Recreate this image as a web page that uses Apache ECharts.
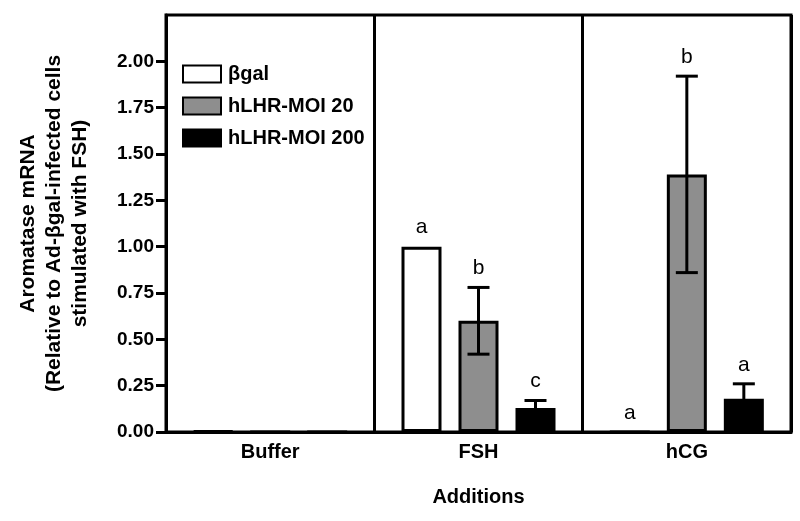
<!DOCTYPE html>
<html>
<head>
<meta charset="utf-8">
<script src="https://cdn.jsdelivr.net/npm/echarts@6/dist/echarts.min.js"></script>
<style>
  html, body { margin: 0; padding: 0; background: #fff; }
  #chart { width: 800px; height: 521px; }
</style>
</head>
<body>
<div id="chart"></div>
<script>
// data
var categories = ['Buffer', 'FSH', 'hCG']
var legendNames = ['\u03b2gal', 'hLHR-MOI 20', 'hLHR-MOI 200']
var betaGal = [0.005, 1.00, 0]
var moi20 = [0, 0.60, 1.39]
var moi200 = [0, 0.13, 0.18]
var betaGalErr = [0, 0, 0]
var moi20Err = [0, 0.18, 0.53]
var moi200Err = [0, 0.04, 0.08]
var betaGalLetters = ['', 'a', 'a']
var moi20Letters = ['', 'b', 'b']
var moi200Letters = ['', 'c', 'a']
var yTicks = [0, 0.25, 0.5, 0.75, 1, 1.25, 1.5, 1.75, 2]

var FONT = 'Liberation Sans, Arial, sans-serif'
var BAR_W = 40
var BAR_STEP = 57 // bar width + gap between bars

// rows for error bars + significance letters
var groups = [
  [betaGal, betaGalErr, betaGalLetters],
  [moi20, moi20Err, moi20Letters],
  [moi200, moi200Err, moi200Letters],
]
var errRows = []
groups.forEach(function (g, s) {
  categories.forEach(function (c, i) {
    errRows.push([i, s, g[0][i], g[1][i], g[2][i]])
  })
})

var myChart = echarts.init(document.getElementById('chart'))

function barSeries(name, data, color) {
  return {
    name: name,
    type: 'bar',
    data: data,
    barWidth: BAR_W,
    barGap: ((BAR_STEP - BAR_W) / BAR_W * 100) + '%',
    itemStyle: { color: color, borderColor: '#000', borderWidth: 3 },
  }
}

myChart.setOption({
  animation: false,
  backgroundColor: '#fff',
  grid: {
    left: 166, right: 9, top: 15, bottom: 89,
    show: true, borderColor: '#000', borderWidth: 3,
  },
  legend: {
    data: legendNames,
    icon: 'rect',
    orient: 'vertical',
    left: 177, top: 59,
    itemWidth: 38, itemHeight: 17, itemGap: 12,
    textStyle: { fontFamily: FONT, fontWeight: 'bold', fontSize: 20, color: '#000', padding: [0, 0, 0, 2] },
  },
  xAxis: {
    type: 'category',
    data: categories,
    name: 'Additions',
    nameLocation: 'middle',
    nameGap: 55,
    nameTextStyle: { fontFamily: FONT, fontWeight: 'bold', fontSize: 20, color: '#000' },
    axisLine: { lineStyle: { color: '#000', width: 3 } },
    axisTick: { alignWithLabel: true, length: 8, lineStyle: { color: '#000', width: 3 } },
    axisLabel: { margin: 10, fontFamily: FONT, fontWeight: 'bold', fontSize: 20, color: '#000' },
    splitLine: { show: true, lineStyle: { color: '#000', width: 3 } },
  },
  yAxis: {
    type: 'value',
    min: 0, max: 2.25, interval: 0.25,
    name: 'Aromatase mRNA\n(Relative to Ad-\u03b2gal-infected cells\nstimulated with FSH)',
    nameLocation: 'middle',
    nameRotate: 90,
    nameGap: 73,
    nameTextStyle: { fontFamily: FONT, fontWeight: 'bold', fontSize: 21, color: '#000', lineHeight: 26, align: 'center' },
    axisLine: { show: true, lineStyle: { color: '#000', width: 3 } },
    axisTick: { show: true, length: 10, customValues: yTicks, lineStyle: { color: '#000', width: 3 } },
    axisLabel: {
      margin: 12, customValues: yTicks,
      fontFamily: FONT, fontWeight: 'bold', fontSize: 19, color: '#000',
      formatter: function (v) { return v.toFixed(2) },
    },
    splitLine: { show: false },
  },
  series: [
    barSeries(legendNames[0], betaGal, '#ffffff'),
    barSeries(legendNames[1], moi20, '#8e8e8e'),
    barSeries(legendNames[2], moi200, '#000000'),
    {
      type: 'custom',
      z: 10,
      data: errRows.map(function (r) { return [r[0], r[1], r[2], r[3]] }),
      renderItem: function (params, api) {
        var c = api.value(0), s = api.value(1), v = api.value(2), e = api.value(3)
        var letter = errRows[params.dataIndex][4]
        var off = (s - 1) * BAR_STEP
        var base = api.coord([c, v])
        var top = api.coord([c, v + e])
        var bot = api.coord([c, v - e])
        var x = base[0] + off
        var st = { stroke: '#000', lineWidth: 3 }
        var kids = []
        if (e > 0) {
          kids.push({ type: 'line', shape: { x1: x, y1: top[1], x2: x, y2: bot[1] }, style: st })
          kids.push({ type: 'line', shape: { x1: x - 11, y1: top[1], x2: x + 11, y2: top[1] }, style: st })
          kids.push({ type: 'line', shape: { x1: x - 11, y1: bot[1], x2: x + 11, y2: bot[1] }, style: st })
        }
        if (letter) {
          kids.push({
            type: 'text',
            style: {
              x: x, y: top[1] - 19, text: letter,
              fill: '#000', font: '21px ' + FONT,
              textAlign: 'center', textVerticalAlign: 'middle',
            },
          })
        }
        return { type: 'group', children: kids }
      },
    },
  ],
})
</script>
</body>
</html>
